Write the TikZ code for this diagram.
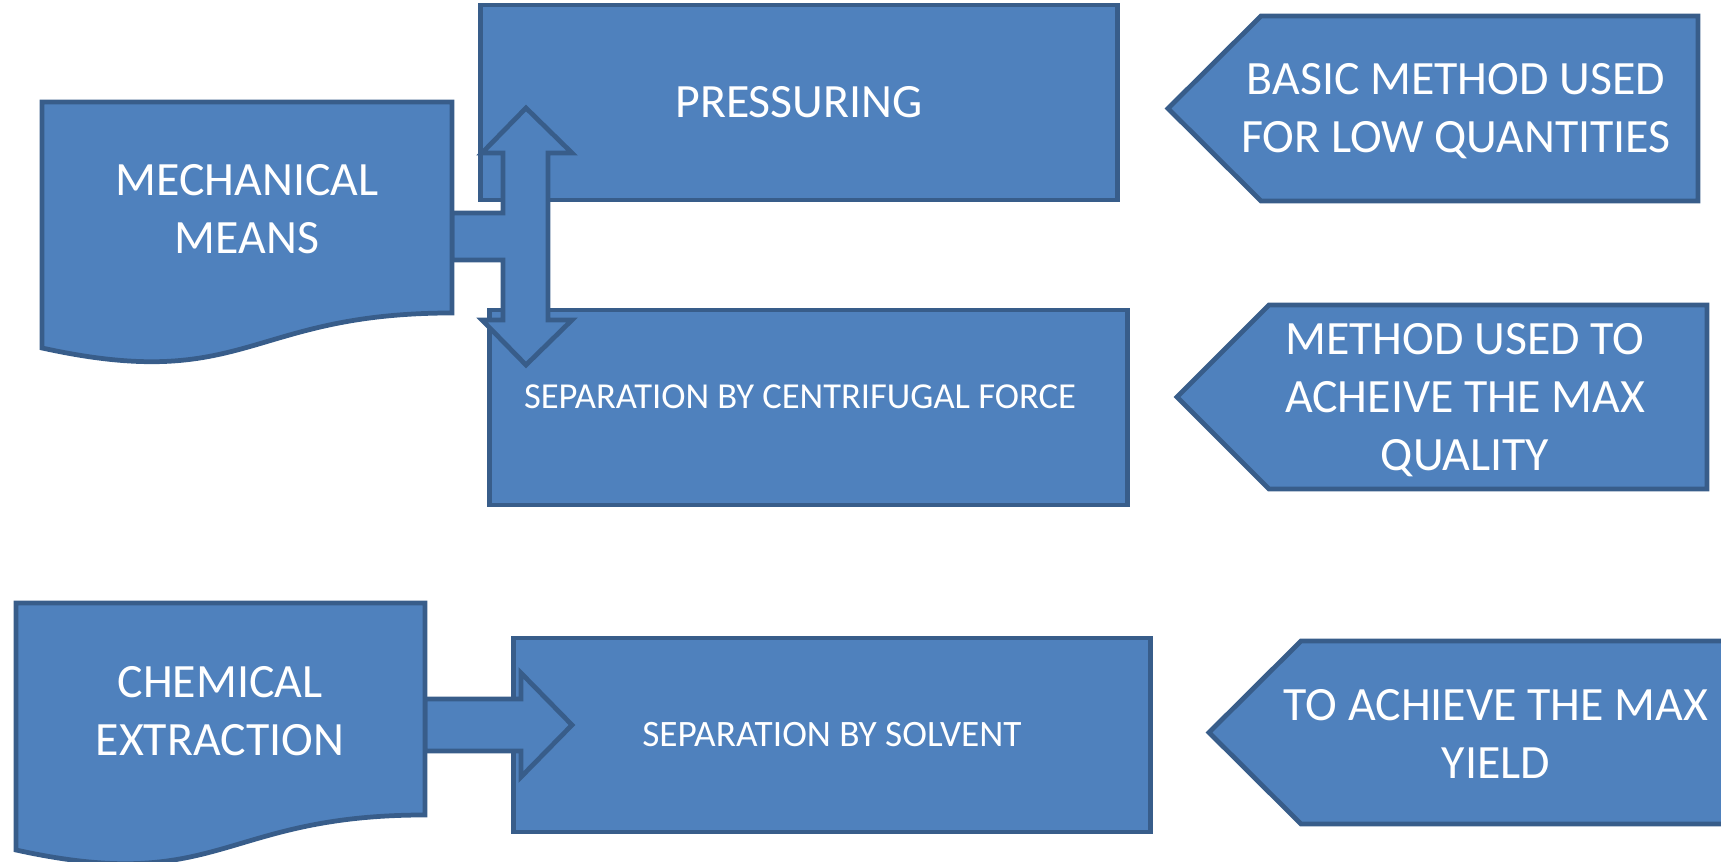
\documentclass[tikz,border=0pt]{standalone}
\usepackage{fontspec}
\setmainfont{Carlito}
\usepackage{tikz}

\definecolor{boxfill}{HTML}{4F81BD}
\definecolor{boxline}{HTML}{385D8A}

\tikzset{
    blk/.style={draw=boxline, fill=boxfill, line width=1.35pt},
    bigtxt/.style={text=white, align=center, font=\fontsize{13.6}{16.5}\selectfont},
    smalltxt/.style={text=white, align=center, font=\fontsize{10.4}{12}\selectfont}
}

\begin{document}
\begin{tikzpicture}[x=0.01cm,y=-0.01cm]
    \useasboundingbox (0,0) rectangle (1721,862);
    \clip (0,0) rectangle (1721,862);
    
    \node[blk, minimum width=6.36cm, minimum height=1.95cm, bigtxt] (press) at (799,102.5) {PRESSURING};
    \node[blk, minimum width=6.37cm, minimum height=1.95cm] (centri) at (808.5,407.5) {};
    \node[smalltxt] (centritxt) at (800,397) {SEPARATION BY CENTRIFUGAL FORCE};
    \node[blk, minimum width=6.36cm, minimum height=1.94cm, smalltxt, font=\fontsize{10.6}{12}\selectfont] (solvent) at (832,735) {SEPARATION BY SOLVENT};
    
    
    \draw[blk] (452,213) -- (503,213) -- (503,153) -- (482,153) -- (526,108) -- (572,153) -- (548,153) -- (548,320) -- (572,320) -- (526,365) -- (482,320) -- (503,320) -- (503,260) -- (452,260) -- cycle;
    \draw[blk] (425,699) -- (521,699) -- (521,673) -- (572,725) -- (521,777) -- (521,751) -- (425,751) -- cycle;
    
    
    \draw[blk] (42,102) -- (452,102) -- (452,313) .. controls (247,313) and (247,393) .. (42,348) -- cycle;
    \draw[blk] (16,603) -- (425,603) -- (425,815) .. controls (220.5,815) and (220.5,895) .. (16,850) -- cycle;
    
    \node[bigtxt] (mech) at (247,209) {MECHANICAL\\MEANS};
    \node[bigtxt] (chem) at (220,711) {CHEMICAL\\EXTRACTION};
    
    
    \draw[blk] (1168,108.5) -- (1261,16) -- (1698,16) -- (1698,201) -- (1261,201) -- cycle;
    \draw[blk] (1177,397) -- (1269,305) -- (1707,305) -- (1707,489) -- (1269,489) -- cycle;
    \draw[blk] (1209,732.5) -- (1301,641) -- (1760,641) -- (1760,824) -- (1301,824) -- cycle;
    
    \node[bigtxt] (lowqty) at (1456,111.5) {BASIC METHOD USED\\FOR LOW QUANTITIES};
    \node[bigtxt] (maxqual) at (1465,400) {METHOD USED TO\\ACHEIVE THE MAX\\QUALITY};
    \node[bigtxt] (maxyield) at (1496,734) {TO ACHIEVE THE MAX\\YIELD};
    
\end{tikzpicture}
\end{document}
